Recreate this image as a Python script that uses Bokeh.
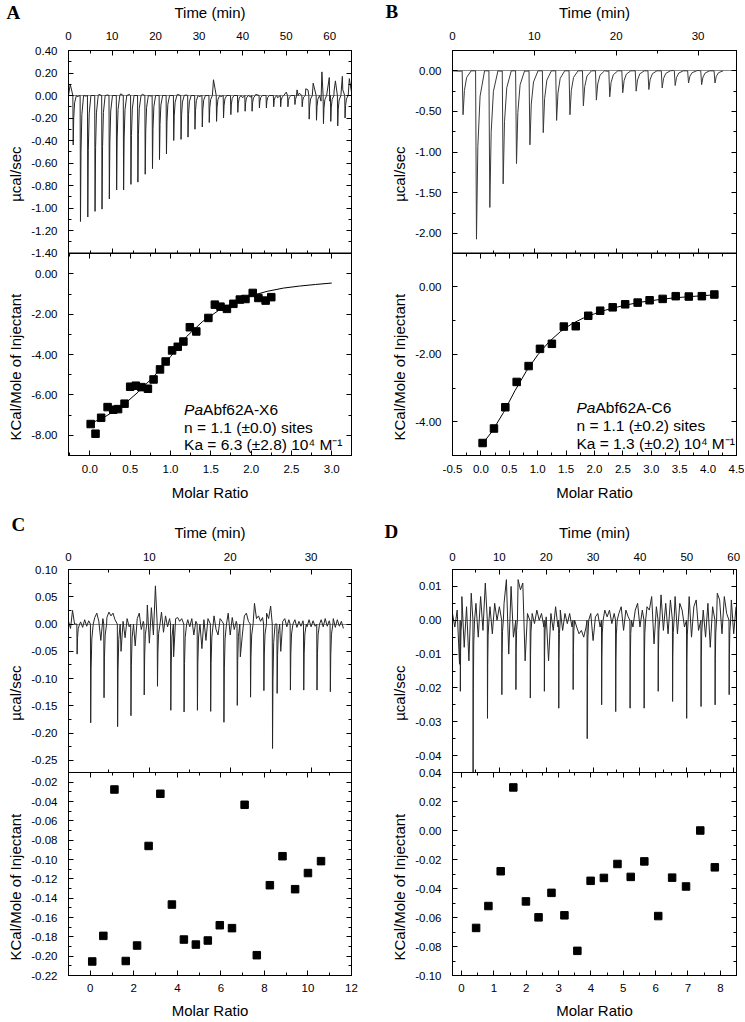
import math
from bokeh.plotting import figure
from bokeh.models import (Range1d, LinearAxis, SingleIntervalTicker, FixedTicker,
                          NumeralTickFormatter, CustomJSTickFormatter, Label, Span, Title)
from bokeh.layouts import column, row
from bokeh.embed import file_html
from bokeh.resources import INLINE

# ============================ DATA ============================
# ---- Panel A: raw thermogram (time in min, ucal/sec) ----
a_inj_t = [1.00, 2.67, 4.35, 6.02, 7.62, 9.30, 10.98, 12.58, 14.26, 15.86,
           17.54, 19.21, 20.82, 22.42, 24.09, 25.77, 27.37, 28.97, 30.65, 32.25,
           33.93, 35.53, 37.21, 38.81, 40.49, 42.09, 43.77, 45.37, 47.05, 48.65,
           50.32, 51.93, 53.60, 55.20, 56.88, 58.48, 60.16, 61.76, 63.44]
a_inj_v = [-0.44, -1.12, -1.08, -1.03, -1.01, -0.92, -0.84, -0.84, -0.79, -0.77,
           -0.70, -0.65, -0.57, -0.52, -0.40, -0.39, -0.37, -0.30, -0.28, -0.24,
           -0.23, -0.20, -0.17, -0.15, -0.14, -0.14, -0.11, -0.11, -0.10, -0.10,
           -0.10, -0.08, -0.10, -0.21, -0.22, -0.25, -0.23, -0.27, -0.20]
a_noise_step = 1.0
a_noise = [0.00, 0.01, -0.01, 0.01, -0.005, 0.01, 0.00, 0.01, -0.01, 0.005,
           0.01, 0.00, 0.015, -0.005, 0.01, 0.005, 0.00, 0.01, 0.015, -0.005,
           0.005, 0.01, 0.00, 0.015, 0.00, 0.01, -0.01, 0.005, 0.00, 0.01,
           -0.01, 0.005, 0.00, 0.02, -0.02, -0.01, -0.02, 0.00, -0.015, 0.005,
           -0.02, 0.00, -0.015, 0.01, -0.01, 0.00, -0.02, 0.01, -0.02, 0.00,
           0.03, -0.02, 0.04, 0.02, -0.03, 0.05, -0.04, 0.03, -0.05, 0.06,
           -0.05, 0.04, -0.06, 0.05, -0.04, 0.03]
a_up_t = [0.40, 33.30, 52.50, 54.50, 56.20, 58.20, 59.90, 61.30, 62.90, 64.50]
a_up_v = [0.10, 0.14, 0.05, 0.06, 0.11, 0.21, 0.16, 0.13, 0.17, 0.15]

# ---- Panel A: integrated heats ----
a_mr = [0.01, 0.07, 0.14, 0.22, 0.29, 0.35, 0.43, 0.50, 0.57, 0.64,
        0.72, 0.79, 0.87, 0.94, 1.02, 1.09, 1.16, 1.24, 1.32, 1.47,
        1.55, 1.62, 1.70, 1.78, 1.86, 1.93, 2.02, 2.09, 2.18, 2.25]
a_heat = [-7.44, -7.92, -7.13, -6.60, -6.73, -6.70, -6.43, -5.59, -5.54, -5.61,
          -5.69, -5.23, -4.73, -4.34, -3.79, -3.61, -3.35, -2.64, -2.85, -2.18,
          -1.52, -1.62, -1.73, -1.48, -1.27, -1.24, -0.94, -1.19, -1.32, -1.15]
a_fit_mr = [0.02, 0.2, 0.4, 0.6, 0.8, 1.0, 1.2, 1.4, 1.6, 1.8, 2.0, 2.2, 2.4, 2.6, 2.8, 3.0]
a_fit_heat = [-7.40, -7.05, -6.55, -5.85, -5.05, -4.10, -3.10, -2.35, -1.80, -1.40,
              -1.08, -0.86, -0.70, -0.60, -0.52, -0.45]

# ---- Panel B: raw thermogram ----
b_inj_t = [1.18, 2.82, 4.45, 6.08, 7.71, 9.35, 10.98, 12.61, 14.24, 15.88,
           17.47, 19.10, 20.69, 22.33, 23.88, 25.51, 27.10, 28.73, 30.33, 31.96]
b_inj_v = [-0.54, -2.07, -1.68, -1.39, -1.14, -0.91, -0.76, -0.61, -0.54, -0.43,
           -0.36, -0.32, -0.27, -0.25, -0.23, -0.21, -0.18, -0.15, -0.17, -0.15]
b_noise_step = 1.0
b_noise = [0.00, -0.005, 0.005, -0.01, 0.00, 0.005, -0.005, 0.00, 0.01, -0.005,
           0.005, 0.00, 0.01, -0.005, 0.00, 0.005, -0.01, 0.00, 0.005, -0.005,
           0.00, 0.005, 0.00, -0.005, 0.01, 0.00, -0.005, 0.005, 0.00, -0.005,
           0.005, 0.00, -0.005, 0.005]

# ---- Panel B: integrated heats ----
b_mr = [0.03, 0.23, 0.43, 0.63, 0.84, 1.04, 1.25, 1.46, 1.67, 1.89,
        2.10, 2.32, 2.54, 2.76, 2.97, 3.20, 3.43, 3.66, 3.89, 4.11]
b_heat = [-4.63, -4.20, -3.57, -2.82, -2.35, -1.84, -1.69, -1.18, -1.17, -0.86,
          -0.71, -0.61, -0.52, -0.47, -0.40, -0.36, -0.28, -0.29, -0.28, -0.23]
b_fit_mr = [0.03, 0.2, 0.4, 0.6, 0.8, 1.0, 1.2, 1.4, 1.6, 1.8, 2.0, 2.2, 2.5,
            2.8, 3.1, 3.4, 3.7, 4.11]
b_fit_heat = [-4.65, -4.28, -3.72, -3.08, -2.50, -2.02, -1.63, -1.33, -1.10, -0.93,
              -0.80, -0.69, -0.56, -0.46, -0.39, -0.33, -0.29, -0.24]

# ---- Panel C: raw thermogram ----
c_inj_t = [1.03, 2.71, 4.36, 6.04, 7.69, 9.33, 10.97, 12.62, 14.26, 15.91,
           17.55, 19.19, 20.84, 22.48, 24.13, 25.20, 25.77, 27.41, 29.06, 30.70, 32.35]
c_inj_v = [-0.055, -0.181, -0.135, -0.188, -0.168, -0.130, -0.114, -0.158, -0.161, -0.158,
           -0.160, -0.180, -0.149, -0.134, -0.122, -0.228, -0.127, -0.121, -0.121, -0.121, -0.124]
c_noise_step = 0.25
c_noise = [0.005, -0.008, 0.025, 0.000, 0.000, 0.000, 0.004, -0.006, 0.008, -0.004,
           0.006, 0.000, 0.000, 0.012, 0.020, 0.005, -0.030, 0.010, 0.000, 0.012,
           0.022, 0.015, 0.020, 0.008, 0.000, 0.000, -0.050, 0.005, -0.025, 0.010,
           -0.005, 0.000, 0.000, -0.040, 0.010, 0.020, -0.010, 0.005, 0.000, 0.035,
           -0.035, 0.030, -0.020, 0.070, 0.000, 0.000, 0.022, -0.015, 0.015, -0.005,
           0.010, 0.000, -0.060, 0.010, 0.012, 0.005, 0.010, 0.000, 0.000, 0.008,
           -0.005, 0.010, -0.020, 0.005, 0.000, 0.000, -0.045, 0.008, -0.030, 0.010,
           0.000, 0.000, 0.015, -0.010, -0.020, 0.010, 0.005, 0.000, 0.000, 0.020,
           -0.020, 0.012, -0.010, 0.005, 0.000, -0.060, -0.020, 0.015, 0.020, 0.005,
           0.000, 0.000, 0.038, 0.010, 0.015, 0.005, 0.012, 0.000, 0.020, 0.010,
           0.033, 0.000, 0.000, 0.000, 0.000, -0.050, 0.005, 0.010, -0.005, 0.008,
           0.000, 0.000, 0.008, -0.006, 0.005, -0.004, 0.006, 0.000, -0.005, 0.008,
           -0.005, 0.006, -0.004, 0.000, 0.000, 0.008, -0.005, 0.010, -0.004, 0.006,
           0.000, 0.010, -0.006, 0.008, -0.004, 0.005, -0.008]

# ---- Panel C: integrated heats ----
c_mr = [0.09, 0.60, 1.11, 1.63, 2.15, 2.68, 3.22, 3.75, 4.30, 4.85,
        5.40, 5.95, 6.51, 7.09, 7.65, 8.25, 8.83, 9.41, 10.00, 10.60]
c_heat = [-0.2055, -0.179, -0.0276, -0.205, -0.189, -0.086, -0.032, -0.1466, -0.1828, -0.188,
          -0.1838, -0.168, -0.171, -0.0434, -0.199, -0.1266, -0.0966, -0.1307, -0.114, -0.1017]

# ---- Panel D: raw thermogram ----
d_inj_t = [1.64, 4.36, 7.43, 10.50, 13.50, 16.57, 19.57, 22.64, 25.71, 28.71,
           31.79, 34.79, 37.86, 40.86, 43.86, 46.93, 49.93, 53.00, 56.00, 59.00]
d_inj_v = [-0.021, -0.045, -0.029, -0.022, -0.0205, -0.023, -0.021, -0.026, -0.0205, -0.035,
           -0.025, -0.027, -0.026, -0.026, -0.021, -0.024, -0.029, -0.0255, -0.025, -0.022]
d_noise_step = 0.5
d_noise = [0.002, -0.002, 0.003, -0.013, 0.007, -0.008, 0.004, -0.012, 0.008, -0.004,
           0.005, -0.005, 0.007, -0.003, 0.011, 0.000, 0.004, -0.004, 0.005, 0.000,
           0.004, -0.002, 0.005, 0.012, -0.010, 0.010, -0.005, 0.004, 0.012, 0.009,
           0.011, -0.012, 0.002, 0.000, 0.002, -0.001, 0.003, 0.000, 0.002, -0.002,
           0.001, -0.012, 0.002, -0.003, 0.004, -0.002, 0.003, -0.003, 0.002, -0.001,
           0.002, -0.002, 0.005, -0.002, -0.004, -0.003, -0.005, -0.002, -0.003, 0.002,
           -0.006, 0.001, 0.002, -0.002, 0.002, 0.003, 0.001, 0.003, -0.001, 0.002,
           0.003, 0.002, 0.004, -0.003, 0.003, 0.001, 0.004, -0.002, 0.003, 0.005,
           -0.002, 0.003, 0.002, 0.004, 0.003, 0.007, -0.007, 0.004, 0.000, 0.0075,
           -0.003, 0.005, -0.004, 0.006, 0.002, 0.007, -0.004, 0.005, 0.003, -0.002,
           0.000, 0.007, -0.005, 0.004, 0.006, -0.003, 0.002, 0.003, -0.005, 0.005,
           -0.008, 0.004, 0.001, 0.008, 0.006, -0.004, 0.007, 0.002, -0.003, 0.006,
           -0.004, 0.004]

# ---- Panel D: integrated heats ----
d_mr = [0.45, 0.83, 1.21, 1.60, 1.99, 2.38, 2.78, 3.18, 3.58, 3.99,
        4.40, 4.82, 5.23, 5.65, 6.08, 6.51, 6.94, 7.38, 7.83]
d_heat = [-0.0672, -0.0521, -0.0281, 0.0297, -0.0489, -0.0599, -0.043, -0.0585, -0.083, -0.0347,
          -0.0327, -0.0231, -0.032, -0.0213, -0.059, -0.0325, -0.0386, 0.000, -0.0254]

# ============================ STYLE / LAYOUT ============================
FONT = "Liberation Sans"
SERIF = "Liberation Serif"
TICK_PX = "11.5px"
LABEL_PX = "15px"
ANNOT_PX = "15.5px"
LINE_COLOR = "#262626"

PROFILE_DT = [0.0, 0.1, 0.25, 0.5, 1.0]
PROFILE_F = [0.0, 1.0, 0.45, 0.15, 0.0]

FIG_W = 372
BL = {"L": 67, "R": 80}
BR = {"L": 21, "R": 8}
FX = {"L": (67, 351), "R": (452, 736)}
ROWS = {1: dict(h=510, bt=49, bb=55, fy=(49, 455), t_so=(11, 8), mr_so=(9, 8)),
        2: dict(h=511, bt=59, bb=46, fy=(569, 975), t_so=(9, 9), mr_so=(8, 7))}
Y_TICK_SO = 11
YLAB_TOP_OFFSET = 96      # distance of "µcal/sec" end from frame top
YLAB_BOT_OFFSET = 15      # distance of "KCal/..." start from frame bottom
YLAB_SO = (9, -47)


def thermogram(inj_t, inj_v, noise, step, width, up_t=(), up_v=()):
    pts = []
    for i, v in enumerate(noise):
        t = i * step
        if not any(ti - 0.05 <= t <= ti + width for ti in inj_t):
            pts.append((t, v))
    for t, v in zip(up_t, up_v):
        pts.append((t, v))
    for ti, vi in zip(inj_t, inj_v):
        for dt, f in zip(PROFILE_DT, PROFILE_F):
            pts.append((ti + dt * width, vi * f))
    pts.sort()
    return [p[0] for p in pts], [p[1] for p in pts]


def ticks_in(lo, hi, step):
    k0 = math.ceil(lo / step - 1e-6)
    k1 = math.floor(hi / step + 1e-6)
    return [round(k * step, 10) for k in range(k0, k1 + 1)]


def fmt2(v):
    v = round(v, 10)
    if abs(v) < 1e-12:
        v = 0.0
    return "%.2f" % v


def tick_style(ax):
    ax.major_tick_in = 5
    ax.major_tick_out = 0
    ax.minor_tick_in = 3
    ax.minor_tick_out = 0
    ax.axis_line_color = "black"
    ax.major_tick_line_color = "black"
    ax.minor_tick_line_color = "black"


def hide_labels(ax):
    ax.formatter = CustomJSTickFormatter(code="return '';")
    ax.major_label_text_font_size = "0px"
    ax.major_label_standoff = 0
    ax.axis_label = None


def label_style(ax, label, tick_so, lab_so):
    ax.major_label_text_font = FONT
    ax.major_label_text_font_size = TICK_PX
    ax.major_label_text_color = "black"
    ax.major_label_standoff = tick_so
    ax.axis_label = label
    ax.axis_label_text_font = FONT
    ax.axis_label_text_font_size = LABEL_PX
    ax.axis_label_text_font_style = "normal"
    ax.axis_label_text_color = "black"
    ax.axis_label_standoff = lab_so


def side_title(text, align, offset, valign, standoff, font=FONT, size=LABEL_PX, style="normal"):
    return Title(text=text, align=align, offset=offset, vertical_align=valign,
                 standoff=standoff, text_font=font, text_font_size=size,
                 text_font_style=style, text_color="black")


def panel(col, rw, t_rng, t_int, mr_rng, mr_int, mr_fmt, top_rng, top_int,
          bot_rng, bot_int, letter, letter_px, letter_so):
    g = ROWS[rw]
    fx0, fx1 = FX[col]
    fy0, fy1 = g["fy"]
    ylo_b, yhi_b = bot_rng
    full_hi = yhi_b + (yhi_b - ylo_b)
    ylo_t, yhi_t = top_rng
    top_lo = ylo_t - (yhi_t - ylo_t)
    eps = 1e-9 * (full_hi - ylo_b)

    p = figure(width=FIG_W, height=g["h"], x_range=Range1d(*mr_rng),
               y_range=Range1d(ylo_b - eps, full_hi + eps),
               x_axis_location=None, y_axis_location=None,
               output_backend="svg", toolbar_location=None,
               min_border_left=BL[col], min_border_right=BR[col],
               min_border_top=g["bt"], min_border_bottom=g["bb"])
    p.extra_x_ranges = {"t": Range1d(*t_rng)}
    p.extra_y_ranges = {"top": Range1d(top_lo, yhi_t)}
    p.xgrid.visible = False
    p.ygrid.visible = False
    p.outline_line_color = "black"
    p.outline_line_width = 1
    p.background_fill_color = "white"
    p.border_fill_color = "white"

    def top_to_default(v):
        return ylo_b + (v - top_lo) * (full_hi - ylo_b) / (yhi_t - top_lo)

    def px_x(tr, px):
        return tr[0] + (px - fx0) / (fx1 - fx0) * (tr[1] - tr[0])

    def py_y(py):
        return full_hi - (py - fy0) / (fy1 - fy0) * (full_hi - ylo_b)

    # ---- y ticks for both halves on one left axis ----
    bot_major = ticks_in(ylo_b, yhi_b, bot_int)
    bot_minor = [v for v in ticks_in(ylo_b, yhi_b, bot_int / 2) if v not in bot_major]
    top_major = ticks_in(ylo_t, yhi_t, top_int)
    top_minor = [v for v in ticks_in(ylo_t, yhi_t, top_int / 2) if v not in top_major]
    major_pos, overrides = [], {}
    for v in bot_major:
        major_pos.append(v)
        overrides[v] = fmt2(v)
    for v in top_major:
        pos = top_to_default(v)
        major_pos.append(pos)
        overrides[pos] = fmt2(v)
    minor_pos = bot_minor + [top_to_default(v) for v in top_minor]

    left = LinearAxis(ticker=FixedTicker(ticks=major_pos, minor_ticks=minor_pos))
    tick_style(left)
    left.formatter = NumeralTickFormatter(format="0.00")
    label_style(left, None, Y_TICK_SO, 0)
    left.major_label_overrides = overrides
    p.add_layout(left, "left")
    p.add_layout(side_title("µcal/sec", "right", YLAB_TOP_OFFSET, "bottom", YLAB_SO[0]), "left")
    p.add_layout(side_title("KCal/Mole of Injectant", "left", YLAB_BOT_OFFSET, "bottom",
                            YLAB_SO[1]), "left")

    right = LinearAxis(ticker=FixedTicker(ticks=major_pos, minor_ticks=minor_pos))
    tick_style(right)
    hide_labels(right)
    p.add_layout(right, "right")

    # ---- top: time axis ----
    tax = LinearAxis(x_range_name="t", ticker=SingleIntervalTicker(interval=t_int, num_minor_ticks=2))
    tick_style(tax)
    tax.formatter = NumeralTickFormatter(format="0")
    label_style(tax, "Time (min)", *g["t_so"])
    p.add_layout(tax, "above")

    # ---- bottom: molar ratio axis ----
    max_ = LinearAxis(ticker=SingleIntervalTicker(interval=mr_int, num_minor_ticks=2))
    tick_style(max_)
    max_.formatter = NumeralTickFormatter(format=mr_fmt)
    label_style(max_, "Molar Ratio", *g["mr_so"])
    p.add_layout(max_, "below")

    # ---- divider (shared edge of the two plots) ----
    dv_t = LinearAxis(x_range_name="t", fixed_location=yhi_b,
                      ticker=SingleIntervalTicker(interval=t_int, num_minor_ticks=2))
    tick_style(dv_t)
    hide_labels(dv_t)
    p.add_layout(dv_t, "below")
    dv_m = LinearAxis(fixed_location=yhi_b,
                      ticker=SingleIntervalTicker(interval=mr_int, num_minor_ticks=2))
    tick_style(dv_m)
    hide_labels(dv_m)
    p.add_layout(dv_m, "above")
    p.add_layout(Span(location=yhi_b, dimension="width", line_color="black", line_width=1))

    # ---- panel letter (outermost title, drawn over the axis-label row) ----
    p.add_layout(side_title(letter, "left", letter_px - fx0, "bottom", letter_so,
                            font=SERIF, size="19px", style="bold"), "above")

    # zero baseline of the raw trace
    p.hspan(y=[0], y_range_name="top", line_color="#8a8a8a", line_width=1, level="underlay")
    return p, px_x, py_y


def annot(p, px_x, py_y, mr_rng, px, pys, name_it, name_rest, line2, line3):
    x = px_x(mr_rng, px)
    kw = dict(text_font=FONT, text_font_size=ANNOT_PX, text_color="black",
              text_align="left", text_baseline="middle")
    p.add_layout(Label(x=x, y=py_y(pys[0]), text=name_it, text_font_style="italic", **kw))
    p.add_layout(Label(x=x, y=py_y(pys[0]), x_offset=19, text=name_rest, **kw))
    p.add_layout(Label(x=x, y=py_y(pys[1]), text=line2, **kw))
    p.add_layout(Label(x=x, y=py_y(pys[2]), text=line3, **kw))


SQ = dict(marker="square", size=7.5, fill_color="black", line_color="black")

# ---------------- Panel A ----------------
mrA = (-0.265, 3.245)
pA, pxA, pyA = panel("L", 1, (0, 65.0), 10, mrA, 0.5, "0.0", (-1.4, 0.4), 0.2,
                     (-9.0, 1.04), 2, "A", 5, -44)
tA, vA = thermogram(a_inj_t, a_inj_v, a_noise, a_noise_step, 0.8, a_up_t, a_up_v)
pA.line(tA, vA, x_range_name="t", y_range_name="top", line_color=LINE_COLOR, line_width=1)
pA.line(a_fit_mr, a_fit_heat, line_color="black", line_width=1)
pA.scatter(a_mr, a_heat, **SQ)
annot(pA, pxA, pyA, mrA, 183, (409, 426.5, 443.5), "Pa", "Abf62A-X6",
      "n = 1.1 (±0.0) sites", "Ka = 6.3 (±2.8) 10⁴ M⁻¹")

# ---------------- Panel B ----------------
mrB = (-0.5, 4.5)
pB, pxB, pyB = panel("R", 1, (0, 34.7), 10, mrB, 0.5, "0.0", (-2.24, 0.25), 0.5,
                     (-5.0, 1.0), 2, "B", 385, -43)
tB, vB = thermogram(b_inj_t, b_inj_v, b_noise, b_noise_step, 1.1)
pB.line(tB, vB, x_range_name="t", y_range_name="top", line_color="#3a3a3a", line_width=1)
pB.line(b_fit_mr, b_fit_heat, line_color="black", line_width=1)
pB.scatter(b_mr, b_heat, **SQ)
annot(pB, pxB, pyB, mrB, 576, (406.7, 425, 443.3), "Pa", "Abf62A-C6",
      "n = 1.1 (±0.2) sites", "Ka = 1.3 (±0.2) 10⁴ M⁻¹")

# ---------------- Panel C ----------------
mrC = (-1.0, 12.0)
pC, pxC, pyC = panel("L", 2, (0, 35.0), 10, mrC, 2, "0", (-0.272, 0.10), 0.05,
                     (-0.22, -0.01), 0.02, "C", 10, -29)
tC, vC = thermogram(c_inj_t, c_inj_v, c_noise, c_noise_step, 0.35)
pC.line(tC, vC, x_range_name="t", y_range_name="top", line_color=LINE_COLOR, line_width=1)
pC.scatter(c_mr, c_heat, **SQ)

# ---------------- Panel D ----------------
mrD = (-0.28, 8.5)
pD, pxD, pyD = panel("R", 2, (0, 60.6), 10, mrD, 1, "0", (-0.045, 0.015), 0.01,
                     (-0.10, 0.04), 0.02, "D", 384, -43)
tD, vD = thermogram(d_inj_t, d_inj_v, d_noise, d_noise_step, 0.35)
pD.line(tD, vD, x_range_name="t", y_range_name="top", line_color=LINE_COLOR, line_width=1)
pD.scatter(d_mr, d_heat, **SQ)

layout = column(row(pA, pB), row(pC, pD))

with open("out.html", "w") as f:
    f.write(file_html(layout, INLINE))
